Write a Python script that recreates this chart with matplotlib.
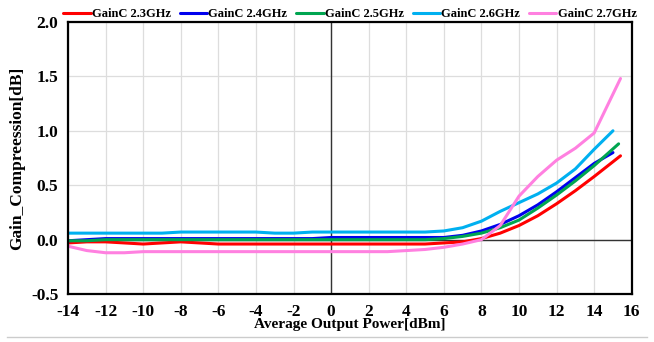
import matplotlib.pyplot as plt
from matplotlib.lines import Line2D

# output power [dBm]
pout = [-14, -13, -12, -11, -10, -9, -8, -7, -6, -5, -4, -3, -2, -1, 0, 1, 2, 3, 4, 5, 6, 7, 8, 9, 10, 11, 12, 13, 14, 15]

gc_23 = [-0.03, -0.02, -0.02, -0.03, -0.04, -0.03, -0.02, -0.03, -0.04, -0.04, -0.04, -0.04, -0.04, -0.04, -0.04, -0.04, -0.04, -0.04, -0.04, -0.04, -0.03, -0.02, 0.01, 0.06, 0.13, 0.22, 0.33, 0.45, 0.58, 0.72]
gc_24 = [-0.01, 0.0, 0.01, 0.01, 0.01, 0.01, 0.01, 0.01, 0.01, 0.01, 0.01, 0.01, 0.01, 0.01, 0.02, 0.02, 0.02, 0.02, 0.02, 0.02, 0.02, 0.04, 0.08, 0.14, 0.22, 0.32, 0.44, 0.57, 0.70, 0.80]
gc_25 = [-0.01, -0.01, 0.0, 0.0, 0.0, 0.0, 0.0, 0.0, 0.0, 0.0, 0.0, 0.0, 0.0, 0.0, 0.0, 0.0, 0.0, 0.0, 0.0, 0.0, 0.01, 0.03, 0.06, 0.11, 0.18, 0.29, 0.41, 0.54, 0.68, 0.82]
gc_26 = [0.06, 0.06, 0.06, 0.06, 0.06, 0.06, 0.07, 0.07, 0.07, 0.07, 0.07, 0.06, 0.06, 0.07, 0.07, 0.07, 0.07, 0.07, 0.07, 0.07, 0.08, 0.11, 0.17, 0.26, 0.34, 0.42, 0.52, 0.65, 0.83, 1.0]
gc_27 = [-0.06, -0.10, -0.12, -0.12, -0.11, -0.11, -0.11, -0.11, -0.11, -0.11, -0.11, -0.11, -0.11, -0.11, -0.11, -0.11, -0.11, -0.11, -0.10, -0.09, -0.07, -0.04, 0.0, 0.13, 0.40, 0.58, 0.73, 0.84, 0.98, 1.30]

# end points run a bit past 15 dBm
end_x = [15.4, 15.0, 15.3, 15.0, 15.4]
end_y = [0.77, 0.80, 0.88, 1.0, 1.48]

labels = ["GainC 2.3GHz", "GainC 2.4GHz", "GainC 2.5GHz", "GainC 2.6GHz", "GainC 2.7GHz"]
colors = ["#ff0000", "#0000ee", "#00a550", "#00b0f0", "#ff80e0"]

plt.rcParams['font.family'] = ['Liberation Serif', 'DejaVu Serif']
plt.rcParams['font.weight'] = 'bold'
plt.rcParams['axes.unicode_minus'] = False

fig = plt.figure(figsize=(6.54, 3.42), dpi=100)
ax = fig.add_axes([0.104, 0.140, 0.862, 0.796])

series = [gc_23, gc_24, gc_25, gc_26, gc_27]
for i in range(len(series)):
    xs = pout[:-1] + [end_x[i]]
    ys = series[i][:-1] + [end_y[i]]
    ax.plot(xs, ys, color=colors[i], lw=2.2, label=labels[i], solid_capstyle='round')

ax.axhline(0, color='#333333', lw=1.0, zorder=1)
ax.axvline(0, color='#333333', lw=1.0, zorder=1)

ax.set_xlim(-14, 16)
ax.set_ylim(-0.5, 2.0)
ax.set_xticks(range(-14, 17, 2))
ax.set_yticks([-0.5, 0.0, 0.5, 1.0, 1.5, 2.0])
ax.set_yticklabels(["-0.5", "0.0", "0.5", "1.0", "1.5", "2.0"])
ax.grid(True, color='#dddddd', lw=0.9)
ax.set_axisbelow(True)
ax.tick_params(length=0, labelsize=12.5, pad=7)
for lab in ax.get_xticklabels() + ax.get_yticklabels():
    lab.set_fontweight('bold')
for s in ax.spines.values():
    s.set_linewidth(1.6)
    s.set_color('black')

ax.set_xlabel("Average Output Power[dBm]", fontsize=11, fontweight='bold', labelpad=-1)
ax.set_ylabel("Gain_Compreession[dB]", fontsize=12.5, fontweight='bold', labelpad=4)

ax.legend(loc='lower center', bbox_to_anchor=(0.5, 0.965), ncol=5, frameon=False,
          handlelength=2.2, handletextpad=0.1, columnspacing=0.7,
          prop={'weight': 'bold', 'size': 9})

fig.add_artist(Line2D([0.01, 0.99], [0.015, 0.015], color='#cccccc', lw=1))

plt.savefig("out.png", dpi=100)
